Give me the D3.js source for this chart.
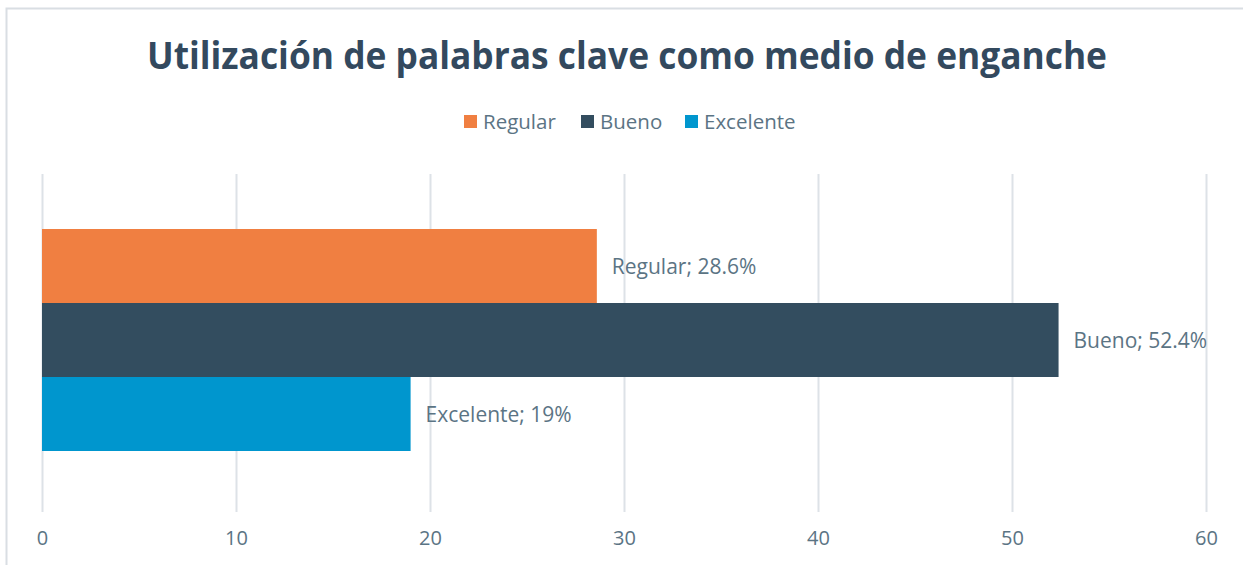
<!DOCTYPE html>
<html>
<head>
<meta charset="utf-8">
<script src="https://cdn.jsdelivr.net/npm/d3@7"></script>
<style>
  body { margin: 0; background: #fff; }
  text { font-family: "Open Sans", "Noto Sans", sans-serif; }
</style>
</head>
<body>
<div id="chart"></div>
<script>
var series = ["Regular", "Bueno", "Excelente"];
var values = [28.6, 52.4, 19];
var valueLabels = ["28.6%", "52.4%", "19%"];
var colors = ["#F07F41", "#334D5F", "#0096CE"];
var ticks = [0, 10, 20, 30, 40, 50, 60];

var width = 1243, height = 565;
var textColor = "#5B7484";

var svg = d3.select("#chart").append("svg")
    .attr("width", width)
    .attr("height", height);

// chart frame (right and bottom fall outside the picture)
svg.append("path")
    .attr("d", "M6.5," + height + "V8.5H" + width)
    .attr("fill", "none")
    .attr("stroke", "#D9DEE3")
    .attr("stroke-width", 2);

svg.append("text")
    .attr("x", 627)
    .attr("y", 69)
    .attr("text-anchor", "middle")
    .attr("font-size", 37)
    .attr("font-weight", "bold")
    .attr("fill", "#33495E")
    .attr("textLength", 960)
    .attr("lengthAdjust", "spacingAndGlyphs")
    .text("Utilización de palabras clave como medio de enganche");

// legend
var legendX = [464, 581, 685];
var legend = svg.append("g");
series.forEach(function(s, i) {
  var g = legend.append("g").attr("transform", "translate(" + legendX[i] + ",115)");
  g.append("rect").attr("width", 13).attr("height", 13).attr("fill", colors[i]);
  g.append("text").attr("x", 19).attr("y", 14).attr("font-size", 20.5)
      .attr("fill", textColor).text(s);
});

var x = d3.scaleLinear().domain([0, 60]).range([42, 1206]);
var y = d3.scaleBand().domain(series).range([229, 451]);

// gridlines
svg.append("g").selectAll("line")
    .data(ticks).enter().append("line")
    .attr("x1", function(d) { return x(d) + 0.5; })
    .attr("x2", function(d) { return x(d) + 0.5; })
    .attr("y1", 174)
    .attr("y2", 512)
    .attr("stroke", "#DDE2E7")
    .attr("stroke-width", 2);

var axis = svg.append("g")
    .attr("transform", "translate(0,545)")
    .call(d3.axisBottom(x).tickValues(ticks).tickSize(0).tickPadding(0));
axis.select(".domain").remove();
axis.selectAll("text")
    .attr("font-size", 20)
    .attr("fill", textColor)
    .attr("dy", 0)
    .style("font-family", "'Open Sans', sans-serif");

svg.append("g").selectAll("rect")
    .data(values).enter().append("rect")
    .attr("x", x(0))
    .attr("y", function(d, i) { return y(series[i]); })
    .attr("width", function(d) { return x(d) - x(0); })
    .attr("height", y.bandwidth())
    .attr("fill", function(d, i) { return colors[i]; });

svg.append("g").selectAll("text")
    .data(values).enter().append("text")
    .attr("x", function(d) { return x(d) + 15; })
    .attr("y", function(d, i) { return y(series[i]) + y.bandwidth() / 2 + 8; })
    .attr("font-size", 21)
    .attr("fill", textColor)
    .text(function(d, i) { return series[i] + "; " + valueLabels[i]; });
</script>
</body>
</html>
